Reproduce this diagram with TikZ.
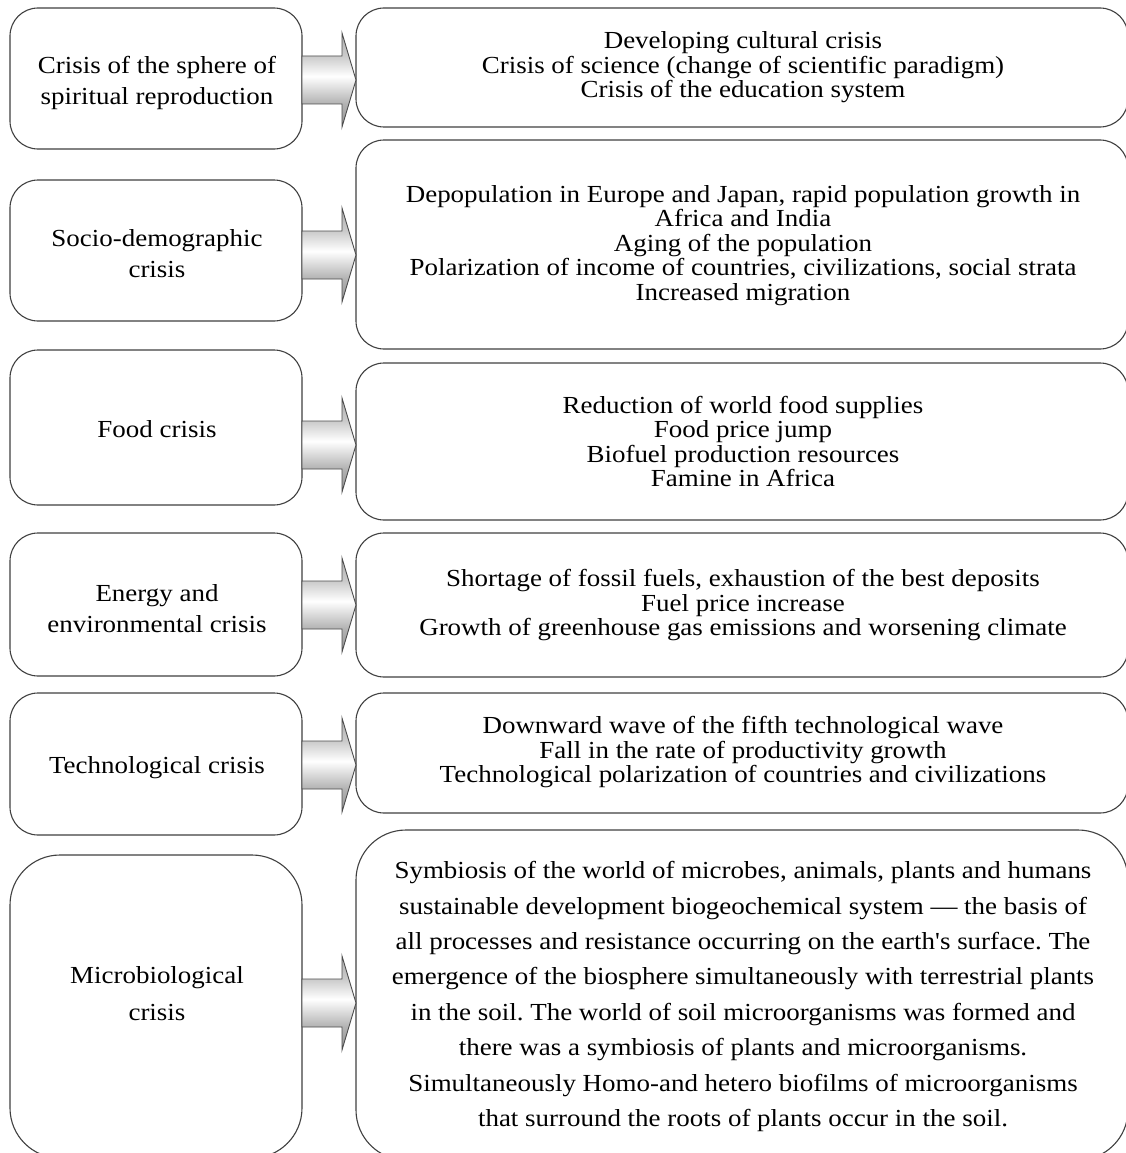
\documentclass[tikz,border=0pt]{standalone}
\usepackage{fontspec}
\setmainfont{Liberation Serif}[FakeStretch=1.1, Ligatures=TeXOff]
\pgfdeclareverticalshading{arrowshade}{100bp}{%
  color(0bp)=(black!42); color(25bp)=(black!42); color(37.5bp)=(black!30);
  color(52bp)=(white); color(62.5bp)=(black!20); color(75bp)=(black!32);
  color(100bp)=(black!32)}
\begin{document}
\frenchspacing
\begin{tikzpicture}[x=1pt,y=-1pt,
  box/.style={draw=black!75, line width=1.1pt, fill=white},
  lbox/.style={box, rounded corners=28pt},
  rbox/.style={box, rounded corners=28pt},
  bigbox/.style={box, rounded corners=50pt},
  txt/.style={inner sep=0pt, align=center, yshift=-2.5pt, font=\fontsize{24.5}{24.5}\selectfont},
  ltxt/.style={inner sep=0pt, align=center, yshift=-2.5pt, font=\fontsize{24.5}{31}\selectfont},
  blockarrow/.style={draw=black!70, line width=0.9pt, line join=miter,
     shading=arrowshade}
]
\useasboundingbox (0,0) rectangle (1126,1153);

% left boxes
\draw[lbox] (10,8) rectangle (302,149);
\draw[lbox] (10,180) rectangle (302,321);
\draw[lbox] (10,350) rectangle (302,505);
\draw[lbox] (10,533) rectangle (302,676);
\draw[lbox] (10,693) rectangle (302,835);
\draw[bigbox] (10,855) rectangle (302,1158);

% right boxes
\draw[rbox] (356,8) rectangle (1128,127);
\draw[rbox] (356,140) rectangle (1128,349);
\draw[rbox] (356,363) rectangle (1128,520);
\draw[rbox] (356,533) rectangle (1128,677);
\draw[rbox] (356,693) rectangle (1128,813);
\draw[bigbox] (356,830) rectangle (1128,1160);

% block arrows
\foreach \c in {80,255,445,605,765,1003}{
  \shade[blockarrow] (302,\c-24) -- (342,\c-24) -- (342,\c-47) -- (356,\c)
     -- (342,\c+47) -- (342,\c+24) -- (302,\c+24) -- cycle;
}

% left texts
\node[ltxt] (l1) at (157,80) {Crisis of the sphere of\\spiritual reproduction};
\node[ltxt] (l2) at (157,251) {Socio-demographic\\crisis};
\node[ltxt] (l3) at (157,427) {Food crisis};
\node[ltxt] (l4) at (157,606) {Energy and\\environmental crisis};
\node[ltxt] (l5) at (157,765) {Technological crisis};
\node[ltxt, font=\fontsize{24.5}{37}\selectfont] (l6) at (157,991) {Microbiological\\crisis};

% right texts
\node[txt] (r1) at (743,65) {Developing cultural crisis\\Crisis of science (change of scientific paradigm)\\Crisis of the education system};
\node[txt] (r2) at (743,243) {Depopulation in Europe and Japan, rapid population growth in\\Africa and India\\Aging of the population\\Polarization of income of countries, civilizations, social strata\\Increased migration};
\node[txt] (r3) at (743,439) {Reduction of world food supplies\\Food price jump\\Biofuel production resources\\Famine in Africa};
\node[txt] (r4) at (743,603) {Shortage of fossil fuels, exhaustion of the best deposits\\Fuel price increase\\Growth of greenhouse gas emissions and worsening climate};
\node[txt] (r5) at (743,750) {Downward wave of the fifth technological wave\\Fall in the rate of productivity growth\\Technological polarization of countries and civilizations};
\node[txt, font=\fontsize{24.5}{35.4}\selectfont] (r6) at (743,994) {Symbiosis of the world of microbes, animals, plants and humans\\sustainable development biogeochemical system — the basis of\\all processes and resistance occurring on the earth's surface. The\\emergence of the biosphere simultaneously with terrestrial plants\\in the soil. The world of soil microorganisms was formed and\\there was a symbiosis of plants and microorganisms.\\Simultaneously Homo-and hetero biofilms of microorganisms\\that surround the roots of plants occur in the soil.};
\end{tikzpicture}
\end{document}
